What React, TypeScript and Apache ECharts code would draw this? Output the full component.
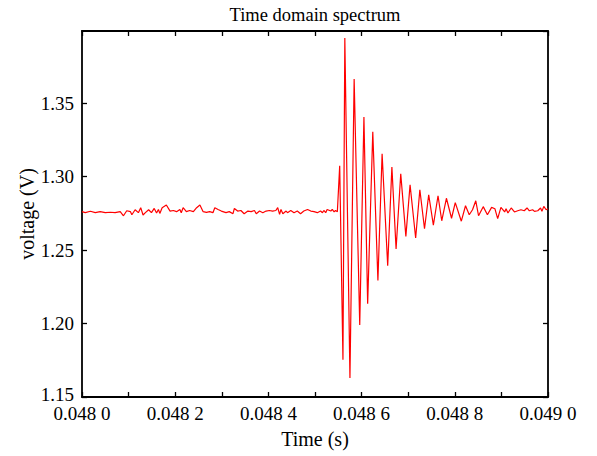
import React, { useEffect, useRef } from "react";
import * as echarts from "echarts";

// Quiet (pre-event) part of the record: time in seconds, voltage in volts
const quietTime = [
  0.048, 0.048007, 0.048018, 0.0480285, 0.048039, 0.04805, 0.048061, 0.048071, 0.048082, 0.048089,
  0.048096, 0.048104, 0.048107, 0.048114, 0.048121, 0.048126, 0.048131, 0.048136, 0.048143, 0.048149,
  0.048155, 0.04816, 0.048164, 0.048167, 0.048172, 0.048181, 0.048189, 0.048196, 0.048203, 0.04821,
  0.048213, 0.048217, 0.048224, 0.048231, 0.048239, 0.048246, 0.048253, 0.04826, 0.048267, 0.048274,
  0.048281, 0.048285, 0.048292, 0.048299, 0.048309, 0.048316, 0.048324, 0.048327, 0.048334, 0.048341,
  0.048348, 0.048356, 0.048363, 0.04837, 0.048374, 0.048381, 0.048388, 0.048395, 0.048402, 0.048409,
  0.048416, 0.04842, 0.048424, 0.048427, 0.048431, 0.048438, 0.048441, 0.048448, 0.048455, 0.048462,
  0.048469, 0.048476, 0.048484, 0.048491, 0.048498, 0.048505, 0.048512, 0.048516, 0.048519, 0.048523,
  0.048526, 0.048534, 0.048537, 0.048541, 0.048544, 0.048548,
];
const quietVolt = [
  1.2761, 1.2754, 1.2764, 1.2754, 1.2761, 1.2754, 1.2757, 1.2754, 1.2761, 1.2733,
  1.2767, 1.2761, 1.274, 1.2774, 1.2754, 1.2788, 1.2738, 1.2754, 1.2774, 1.2754,
  1.2783, 1.2752, 1.2776, 1.2749, 1.2788, 1.2806, 1.2765, 1.2769, 1.2761, 1.2776,
  1.2754, 1.2788, 1.2761, 1.2769, 1.2761, 1.2788, 1.2806, 1.2761, 1.2756, 1.2761,
  1.2754, 1.2788, 1.2776, 1.2765, 1.2754, 1.2761, 1.2747, 1.2783, 1.2765, 1.2769,
  1.2747, 1.2765, 1.2761, 1.2769, 1.2747, 1.2765, 1.2754, 1.2765, 1.2769, 1.2765,
  1.2769, 1.2788, 1.2742, 1.2776, 1.2747, 1.2765, 1.2754, 1.2769, 1.2754, 1.2765,
  1.2747, 1.2765, 1.2776, 1.2765, 1.2761, 1.2754, 1.2765, 1.2754, 1.2769, 1.2754,
  1.2776, 1.2765, 1.2776, 1.2759, 1.2769, 1.2761,
];

// Ringing (decaying oscillation) part of the record
const ringTime = [
  0.048553, 0.04856, 0.048564, 0.048575, 0.048584, 0.048596, 0.048605, 0.048613, 0.048624, 0.048635,
  0.048644, 0.048656, 0.048665, 0.048674, 0.048684, 0.048695, 0.048704, 0.048716, 0.048725, 0.048735,
  0.048744, 0.048754, 0.048764, 0.048772, 0.048782, 0.048793, 0.048801, 0.048814, 0.048823, 0.048831,
  0.048838, 0.048845, 0.048851, 0.048861, 0.04887, 0.048879, 0.048886, 0.048892, 0.048899, 0.048907,
  0.04891, 0.048914, 0.048921, 0.048928, 0.048935, 0.048942, 0.048949, 0.048955, 0.04896, 0.048967,
  0.048971, 0.048978, 0.048984, 0.048987, 0.048991, 0.048996, 0.049,
];
const ringVolt = [
  1.3073, 1.1754, 1.3942, 1.1629, 1.3663, 1.199, 1.3405, 1.2135, 1.3305, 1.2293,
  1.3155, 1.2393, 1.3065, 1.2507, 1.3019, 1.2593, 1.2944, 1.2582, 1.291, 1.2645,
  1.2876, 1.2669, 1.2869, 1.2699, 1.2852, 1.2716, 1.2822, 1.2696, 1.2801, 1.274,
  1.2774, 1.2835, 1.2733, 1.2795, 1.274, 1.279, 1.2781, 1.2713, 1.279, 1.2759,
  1.2781, 1.2752, 1.2786, 1.2759, 1.2767, 1.2774, 1.2767, 1.2786, 1.2767, 1.2774,
  1.2763, 1.2767, 1.2786, 1.2763, 1.2797, 1.2774, 1.2781,
];

const xMin = 0.048;
const xMax = 0.049;
const xStep = 0.0001;
const yMin = 1.15;
const yMax = 1.399;
const yStep = 0.05;

const FONT = '"Liberation Serif", "Times New Roman", serif';

function fmtX(v: number): string {
  const k = Math.round((v - xMin) / xStep);
  if (k % 2 !== 0) return "";
  const s = v.toFixed(4);
  return s.slice(0, -1) + " " + s.slice(-1);
}

function fmtY(v: number): string {
  const s = v.toFixed(2);
  return Math.abs(v - yMin) < 1e-9 ? "{lo|" + s + "}" : s;
}

export default function App() {
  const ref = useRef<HTMLDivElement>(null);
  useEffect(() => {
    if (!ref.current) return;
    const chart = echarts.init(ref.current, undefined, { renderer: "svg" });
    const data: [number, number][] = [];
    quietTime.forEach((t, i) => data.push([t, quietVolt[i]]));
    ringTime.forEach((t, i) => data.push([t, ringVolt[i]]));

    const axisLine = { show: true, lineStyle: { color: "#000", width: 1.8 } };
    const axisTick = { show: true, inside: true, length: 5, lineStyle: { color: "#000", width: 1.3 } };

    chart.setOption({
      animation: false,
      backgroundColor: "#fff",
      title: {
        text: "Time domain spectrum",
        left: 315,
        top: 5,
        padding: 0,
        textAlign: "center",
        textStyle: { fontFamily: FONT, fontSize: 18.5, fontWeight: "normal", color: "#000" },
      },
      grid: { left: 82, right: 49, top: 31, bottom: 59, containLabel: false },
      xAxis: [
        {
          type: "value",
          min: xMin,
          max: xMax,
          interval: xStep,
          position: "bottom",
          name: "Time (s)",
          nameLocation: "middle",
          nameGap: 32,
          nameTextStyle: { fontFamily: FONT, fontSize: 20, color: "#000" },
          axisLine,
          axisTick,
          splitLine: { show: false },
          axisLabel: {
            formatter: fmtX,
            fontFamily: FONT,
            fontSize: 19,
            lineHeight: 14,
            color: "#000",
            margin: 9,
            showMinLabel: true,
            showMaxLabel: true,
          },
        },
        {
          type: "value",
          min: xMin,
          max: xMax,
          interval: xStep,
          position: "top",
          axisLine,
          axisTick,
          splitLine: { show: false },
          axisLabel: { show: false },
        },
      ],
      yAxis: [
        {
          type: "value",
          min: yMin,
          max: yMax,
          interval: yStep,
          position: "left",
          name: "voltage (V)",
          nameLocation: "middle",
          nameGap: 45,
          nameMoveOverlap: false,
          nameTextStyle: { fontFamily: FONT, fontSize: 20, color: "#000" },
          axisLine,
          axisTick,
          splitLine: { show: false },
          axisLabel: {
            formatter: fmtY,
            fontFamily: FONT,
            fontSize: 19,
            lineHeight: 12,
            color: "#000",
            margin: 8,
            showMaxLabel: false,
            rich: {
              lo: {
                fontFamily: FONT,
                fontSize: 19,
                lineHeight: 12,
                color: "#000",
                padding: [0, 0, 6, 0],
              },
            },
          },
        },
        {
          type: "value",
          min: yMin,
          max: yMax,
          interval: yStep,
          position: "right",
          axisLine,
          axisTick,
          splitLine: { show: false },
          axisLabel: { show: false },
        },
      ],
      series: [
        {
          type: "line",
          data,
          xAxisIndex: 0,
          yAxisIndex: 0,
          showSymbol: false,
          symbol: "none",
          lineStyle: { color: "#ff0000", width: 1.2 },
        },
      ],
    });
    return () => chart.dispose();
  }, []);
  return (
    <div
      ref={ref}
      style={{ position: "fixed", left: 0, top: 0, width: 597, height: 456, background: "#fff" }}
    />
  );
}
